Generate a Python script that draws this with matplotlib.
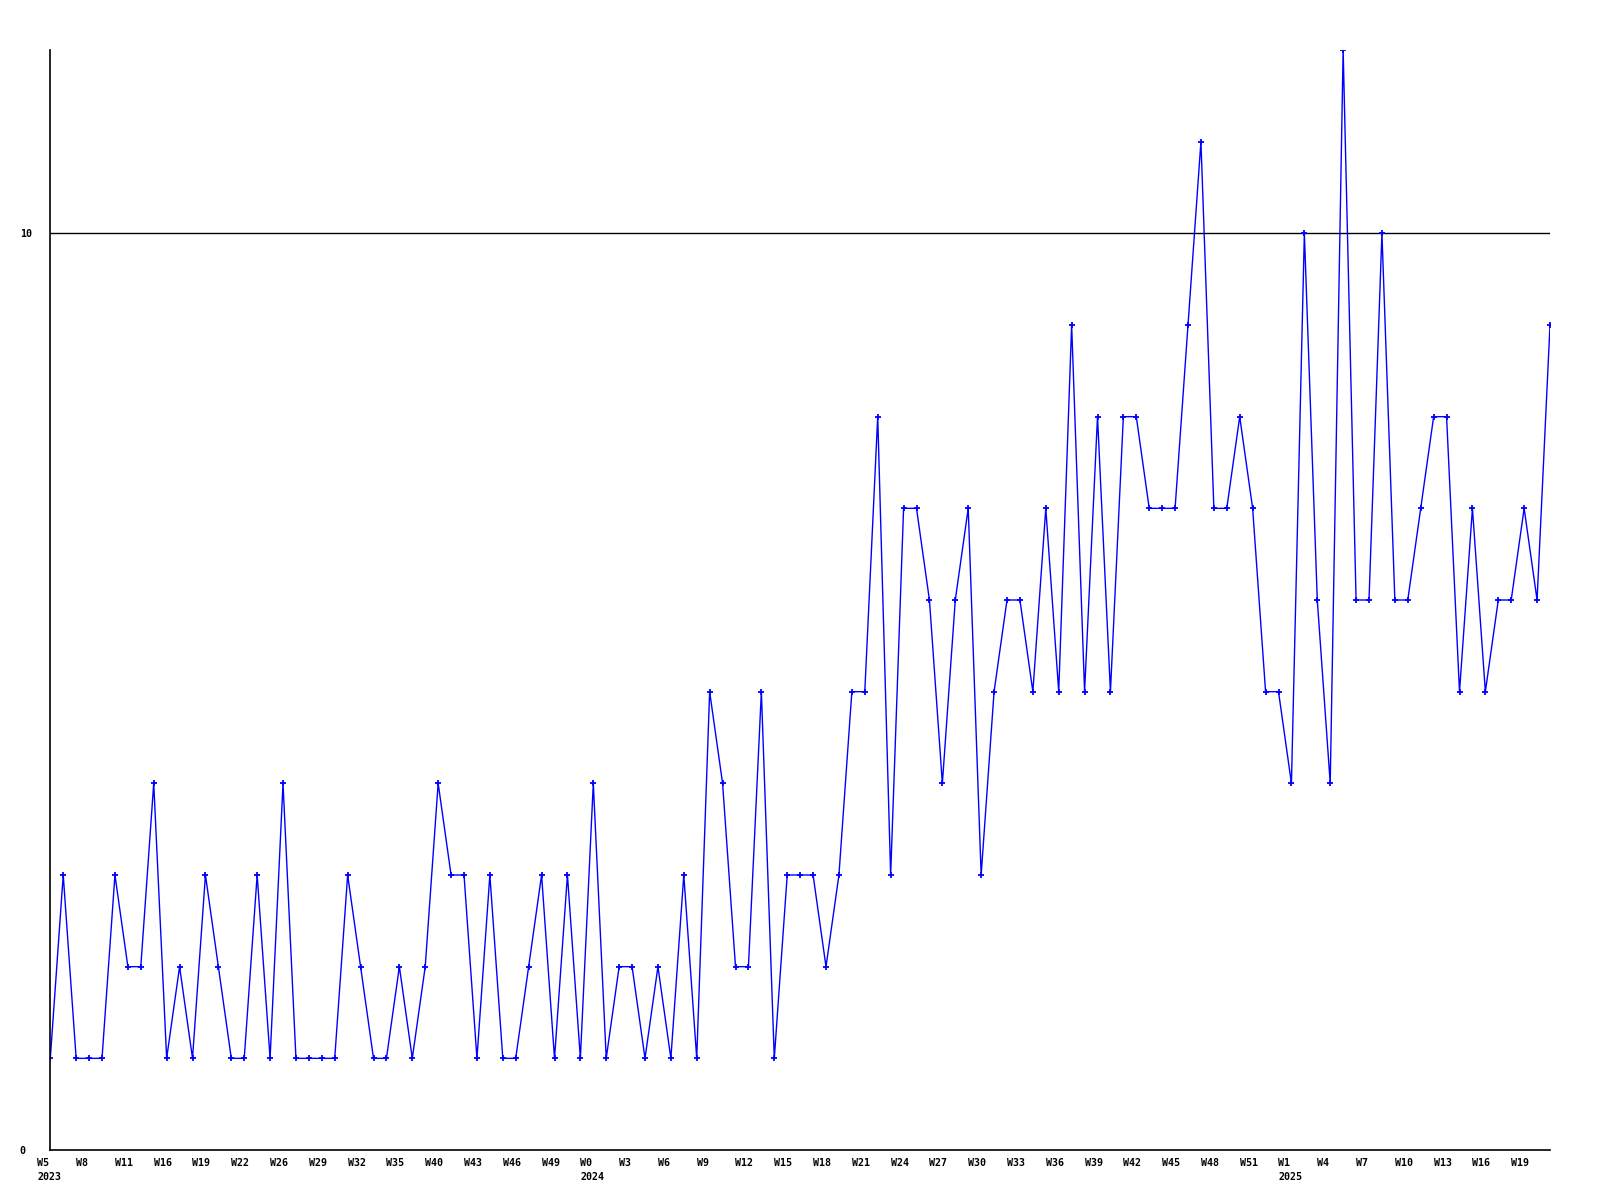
import matplotlib
matplotlib.use("Agg")
import matplotlib.pyplot as plt
from matplotlib.transforms import ScaledTranslation

# weekly counts, one point per week shown on the chart
counts = [1, 3, 1, 1, 1, 3, 2, 2, 4, 1, 2, 1, 3, 2, 1, 1, 3, 1, 4, 1,
          1, 1, 1, 3, 2, 1, 1, 2, 1, 2, 4, 3, 3, 1, 3, 1, 1, 2, 3, 1,
          3, 1, 4, 1, 2, 2, 1, 2, 1, 3, 1, 5, 4, 2, 2, 5, 1, 3, 3, 3,
          2, 3, 5, 5, 8, 3, 7, 7, 6, 4, 6, 7, 3, 5, 6, 6, 5, 7, 5, 9,
          5, 8, 5, 8, 8, 7, 7, 7, 9, 11, 7, 7, 8, 7, 5, 5, 4, 10, 6, 4,
          12, 6, 6, 10, 6, 6, 7, 8, 8, 5, 7, 5, 6, 6, 7, 6, 9]

# labels on every third week
week_labels = ["W5\n2023", "W8", "W11", "W16", "W19", "W22", "W26", "W29",
               "W32", "W35", "W40", "W43", "W46", "W49",
               "W0\n2024", "W3", "W6", "W9", "W12", "W15", "W18", "W21",
               "W24", "W27", "W30", "W33", "W36", "W39", "W42", "W45",
               "W48", "W51",
               "W1\n2025", "W4", "W7", "W10", "W13", "W16", "W19"]

y_ticks = [0, 10]
ref_level = 10

fig = plt.figure(figsize=(16, 12), dpi=100)
ax = fig.add_axes([50.3 / 1600, 50 / 1200, 1499.7 / 1600, 1100 / 1200])

x = list(range(len(counts)))
ax.plot(x, counts, color="#0000ff", lw=1.0, marker="+", ms=4, mew=1.3)
ax.axhline(ref_level, color="black", lw=1.0, zorder=1)

ax.set_xlim(0, len(counts) - 1)
ax.set_ylim(0, 12)

for side in ["top", "right"]:
    ax.spines[side].set_visible(False)
for side in ["left", "bottom"]:
    ax.spines[side].set_linewidth(1.2)

font = dict(family="DejaVu Sans Mono", weight="bold", size=7.2)

ax.set_yticks(y_ticks)
ax.set_yticklabels([str(v) for v in y_ticks], **font)
ax.tick_params(axis="y", length=0, pad=22)
for lab in ax.get_yticklabels():
    lab.set_horizontalalignment("left")

ax.set_xticks(x[::3])
ax.set_xticklabels(week_labels, linespacing=1.5, **font)
ax.tick_params(axis="x", length=0, pad=6)
shift = ScaledTranslation(-13 / 100, 0, fig.dpi_scale_trans)
for lab in ax.get_xticklabels():
    lab.set_horizontalalignment("left")
    lab.set_transform(lab.get_transform() + shift)

fig.savefig("out.png", dpi=100)
